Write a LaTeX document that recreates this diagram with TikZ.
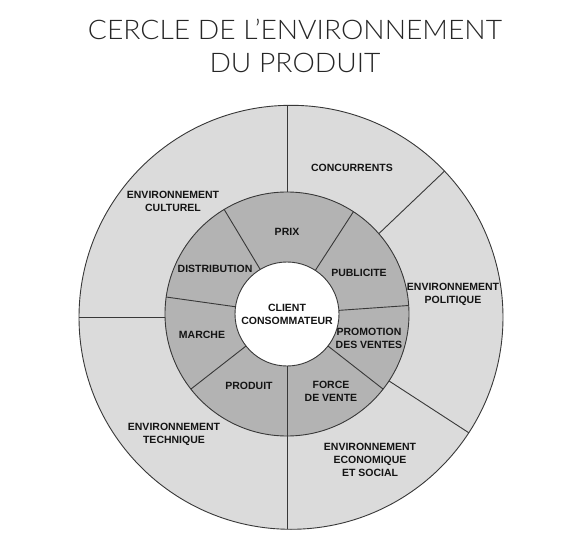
\documentclass[tikz,border=0pt]{standalone}
\usepackage{fontspec}
\setmainfont{Liberation Sans}
\newfontfamily\titlefont{Lato Light}[FakeStretch=1.045]
\usetikzlibrary{calc}
\definecolor{outerfill}{HTML}{DBDBDB}
\definecolor{midfill}{HTML}{B3B3B3}
\definecolor{linec}{HTML}{383838}
\definecolor{textc}{HTML}{141414}
\tikzset{
  ring/.style={draw=linec, line width=0.9pt},
  divider/.style={draw=linec, line width=0.9pt},
  lbl/.style={font=\fontsize{10.5}{13}\selectfont\bfseries, text=textc, align=center, inner sep=0pt},
  ttl/.style={font=\titlefont\fontsize{27}{30}\selectfont, text=black!85, anchor=base, inner sep=0pt}
}
\begin{document}
\begin{tikzpicture}[x=1pt,y=-1pt]
\useasboundingbox (0,0) rectangle (582,559);
\coordinate (O) at (291,317.3);
\coordinate (C) at (287,314);
% title
\node[ttl] (t1) at (295,39.3) {CERCLE DE L’ENVIRONNEMENT};
\node[ttl] (t2) at (295,73) {DU PRODUIT};
% outer ring
\path[ring, fill=outerfill] (O) circle[radius=212pt];
\draw[divider] (287,105.5) -- (287,220);
\draw[divider] ($(O)+(43.6:212pt)$) -- ($(O)+(43.6:100pt)$);
\draw[divider] ($(O)+(-33:212pt)$) -- ($(O)+(-33:100pt)$);
\draw[divider] (287,529) -- (287,420);
\draw[divider] (79.3,317.5) -- (200,317.5);
% middle ring
\path[ring, fill=midfill] (C) circle[radius=122pt];
\foreach \a in {121,57,4,-38,-90,218,172}
  \draw[divider] ($(C)+(\a:52pt)$) -- ($(C)+(\a:122pt)$);
% inner disk
\path[ring, fill=white] (C) circle[radius=52pt];
% outer labels
\node[lbl] (conc) at (352,168) {CONCURRENTS};
\node[lbl] (pol) at (453,294) {ENVIRONNEMENT\\POLITIQUE};
\node[lbl] (cult) at (173,201) {ENVIRONNEMENT\\CULTUREL};
\node[lbl] (tech) at (174,434) {ENVIRONNEMENT\\TECHNIQUE};
\node[lbl] (eco) at (370,460) {ENVIRONNEMENT\\ECONOMIQUE\\ET SOCIAL};
% middle labels
\node[lbl] (prix) at (287,232) {PRIX};
\node[lbl] (pub) at (359,273) {PUBLICITE};
\node[lbl] (promo) at (369,338.5) {PROMOTION\\DES VENTES};
\node[lbl] (force) at (331,391) {FORCE\\DE VENTE};
\node[lbl] (prod) at (249,386) {PRODUIT};
\node[lbl] (marche) at (202,335) {MARCHE};
\node[lbl] (dist) at (215,269) {DISTRIBUTION};
% centre
\node[lbl] (client) at (287,314) {CLIENT\\CONSOMMATEUR};
\end{tikzpicture}
\end{document}
